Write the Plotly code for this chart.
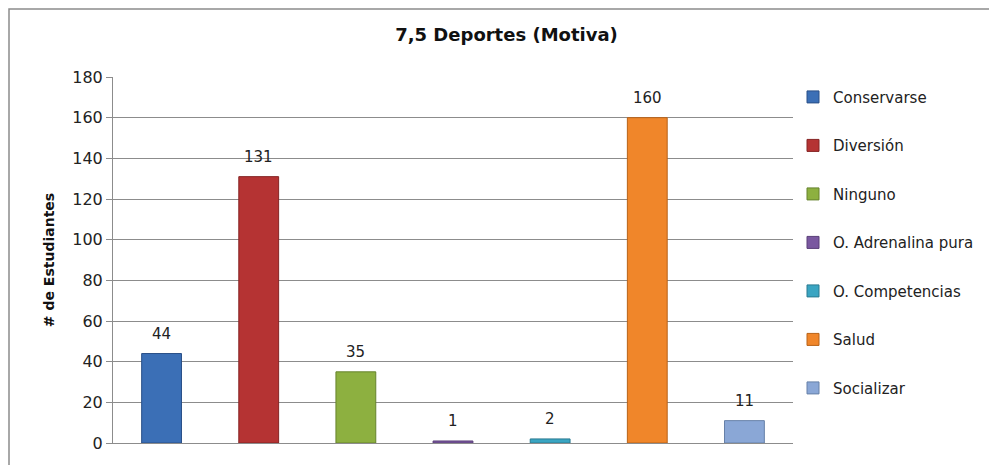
import plotly.graph_objects as go

categories = ["Conservarse", "Diversión", "Ninguno", "O. Adrenalina pura",
              "O. Competencias", "Salud", "Socializar"]
values = [44, 131, 35, 1, 2, 160, 11]
colors = ["#3b6fb6", "#b53333", "#8db040", "#7a58a0", "#3aa5c2", "#f0862a", "#8aa7d6"]
line_colors = ["#2a5088", "#852424", "#66822c", "#5a3f78", "#2a7a90", "#b86218", "#6680a8"]
y_ticks = [0, 20, 40, 60, 80, 100, 120, 140, 160, 180]

FONT = "DejaVu Sans"

fig = go.Figure()
for cat, val, col, lc in zip(categories, values, colors, line_colors):
    fig.add_trace(go.Bar(
        x=[cat], y=[val], name=cat, width=0.41,
        marker=dict(color=col, line=dict(color=lc, width=1)),
        legendgroup=cat,
    ))
    fig.add_annotation(x=cat, y=val, text=str(val), showarrow=False,
                       yanchor="bottom", yshift=9,
                       font=dict(family=FONT, size=15, color="#222222"))

fig.update_layout(
    width=997, height=465,
    margin=dict(l=105, r=212, t=69, b=30),
    paper_bgcolor="white", plot_bgcolor="white",
    barmode="overlay",
    font=dict(family=FONT, size=14, color="#222222"),
    title=dict(text="<b>7,5 Deportes (Motiva)</b>", x=0.5, xanchor="center",
               y=0.942, yanchor="middle",
               font=dict(family=FONT, size=18, color="#111111")),
    showlegend=True,
    legend=dict(x=1.0, xanchor="left", y=0.99, yanchor="top",
                tracegroupgap=26, font=dict(family=FONT, size=15, color="#222222"),
                itemwidth=30, bgcolor="rgba(0,0,0,0)"),
    xaxis=dict(showticklabels=False, showgrid=False, showline=True,
               linecolor="#8c8c8c", linewidth=1, ticks="",
               range=[-0.5, len(categories) - 0.5]),
    yaxis=dict(range=[0, 180], tickvals=y_ticks, showgrid=True,
               gridcolor="#8c8c8c", gridwidth=1, showline=True,
               linecolor="#8c8c8c", linewidth=1, ticks="outside",
               ticklen=6, tickcolor="#8c8c8c", zeroline=False,
               tickfont=dict(family=FONT, size=16, color="#222222"),
               title=dict(text="<b># de Estudiantes</b>", standoff=14,
                          font=dict(family=FONT, size=14, color="#111111"))),
)

# outer chart border (partially cropped in the original)
fig.add_shape(type="rect", xref="paper", yref="paper",
              x0=(9 - 113) / 680, x1=1.5, y0=-0.3, y1=(443 - 9) / 366,
              line=dict(color="#8c8c8c", width=1.5), fillcolor="rgba(0,0,0,0)",
              layer="below")

fig.write_html("out.html")
